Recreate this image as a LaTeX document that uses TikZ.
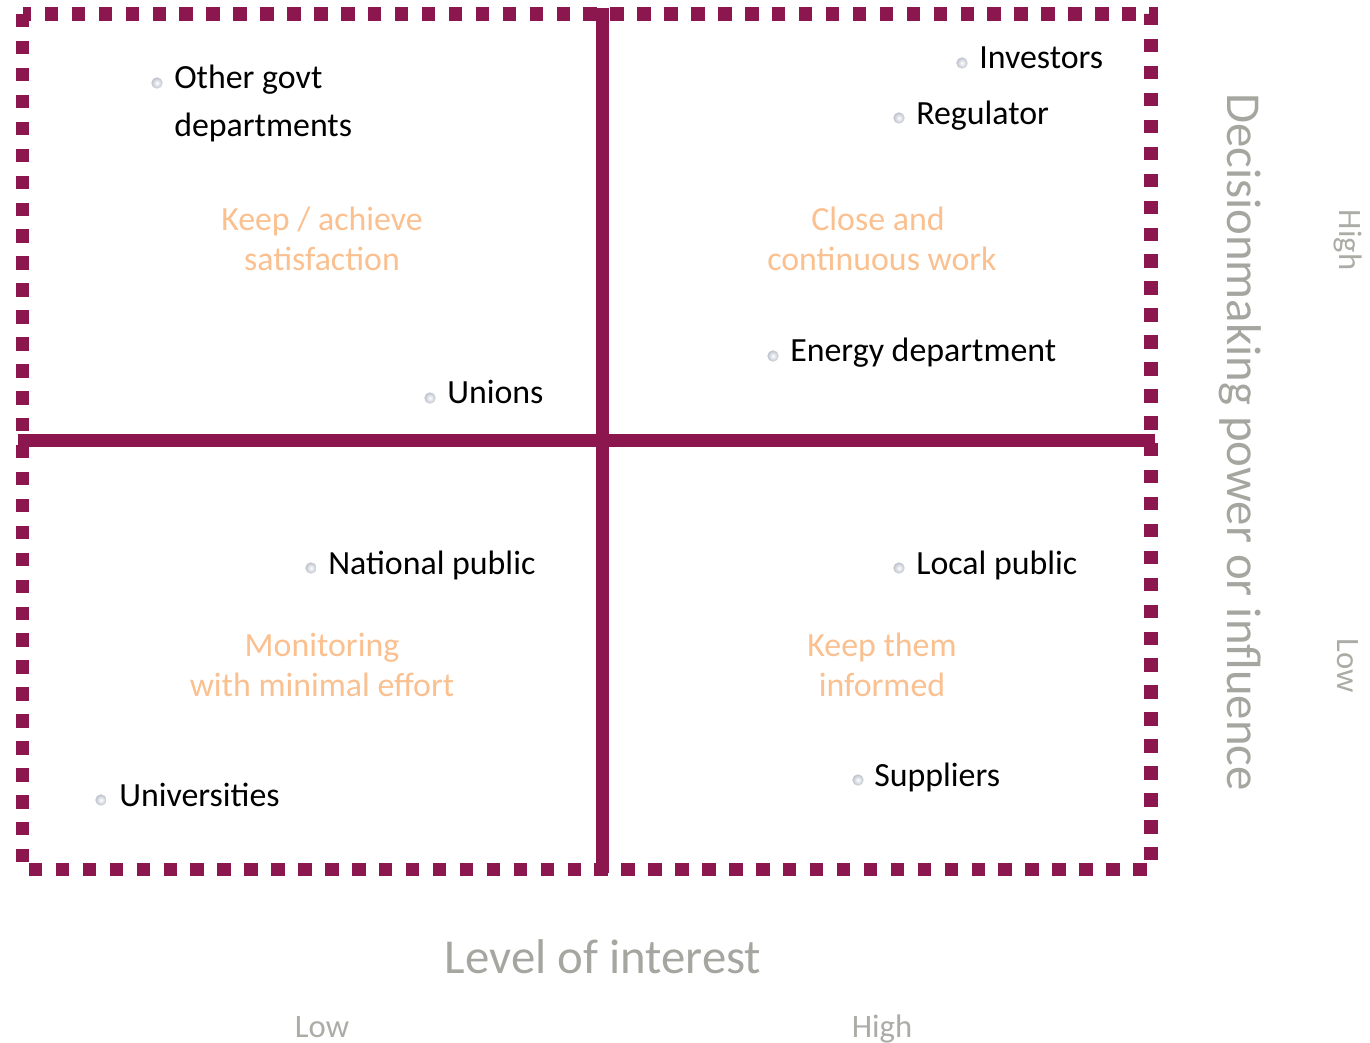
\documentclass[tikz,border=0pt]{standalone}
\usepackage{fontspec}
\setmainfont{Carlito}
\definecolor{plum}{RGB}{140,23,78}
\definecolor{peach}{RGB}{250,192,144}
\definecolor{axisgray}{RGB}{166,166,160}
\definecolor{lightgray2}{RGB}{172,172,166}
\definecolor{bulgray}{RGB}{188,193,204}
\begin{document}
\begin{tikzpicture}[x=0.75pt,y=-0.75pt,
  lbl/.style={anchor=base west,inner sep=0,font=\fontsize{25.4}{30}\selectfont},
  quad/.style={anchor=base,inner sep=0,text=peach,font=\fontsize{25.4}{30}\selectfont},
  bul/.style={circle,inner sep=0,minimum size=8.5pt,shading=radial,inner color=white,outer color=bulgray},
  axistitle/.style={inner sep=0,text=axisgray,font=\fontsize{36.6}{40}\selectfont},
  axisval/.style={inner sep=0,text=lightgray2,font=\fontsize{24.5}{28}\selectfont},
  border/.style={draw=plum,line width=10.1pt,dash pattern=on 10.1pt off 10.1pt},
  divider/.style={draw=plum,line width=10.2pt}]
\useasboundingbox (0,0) rectangle (1370,1042);
% border
\coordinate (tl) at (22.5,14);
\coordinate (br) at (1151,869.5);
\draw[border] (tl) rectangle (br);
% dividers
\coordinate (vt) at (602.5,8);
\coordinate (vb) at (602.5,873);
\coordinate (hl) at (18,440.5);
\coordinate (hr) at (1155,440.5);
\draw[divider] (hl) -- (hr);
\draw[divider] (vt) -- (vb);
% stakeholders
\node[bul] (b1) at (157,83) {};
\node[lbl] (t1a) at (174,88) {Other govt};
\node[lbl] (t1b) at (174,136) {departments};
\node[bul] (b2) at (962,63) {};
\node[lbl] (t2) at (979,68) {Investors};
\node[bul] (b3) at (899,118) {};
\node[lbl] (t3) at (916,124) {Regulator};
\node[bul] (b4) at (773,356) {};
\node[lbl] (t4) at (790,361) {Energy department};
\node[bul] (b5) at (430,398) {};
\node[lbl] (t5) at (447,403) {Unions};
\node[bul] (b6) at (311,568) {};
\node[lbl] (t6) at (328,574) {National public};
\node[bul] (b7) at (899,568) {};
\node[lbl] (t7) at (916,574) {Local public};
\node[bul] (b8) at (858,780) {};
\node[lbl] (t8) at (874,786) {Suppliers};
\node[bul] (b9) at (101,800) {};
\node[lbl] (t9) at (119,806) {Universities};
% quadrant titles
\node[quad] (q1a) at (322,230) {Keep / achieve};
\node[quad] (q1b) at (322,270) {satisfaction};
\node[quad] (q2a) at (878,230) {Close and};
\node[quad] (q2b) at (882,270) {continuous work};
\node[quad] (q3a) at (322,656) {Monitoring};
\node[quad] (q3b) at (322,696) {with minimal effort};
\node[quad] (q4a) at (882,656) {Keep them};
\node[quad] (q4b) at (882,696) {informed};
% axes
\node[axistitle,anchor=base] (xt) at (603,973) {Level of interest};
\node[axisval,anchor=base] (xl) at (322,1037) {Low};
\node[axisval,anchor=base] (xh) at (882,1037) {High};
\node[axistitle,rotate=-90] (yt) at (1240,442) {Decisionmaking power or influence};
\node[axisval,rotate=-90] (yh) at (1348,240) {High};
\node[axisval,rotate=-90] (yl) at (1348,666) {Low};
\end{tikzpicture}
\end{document}
